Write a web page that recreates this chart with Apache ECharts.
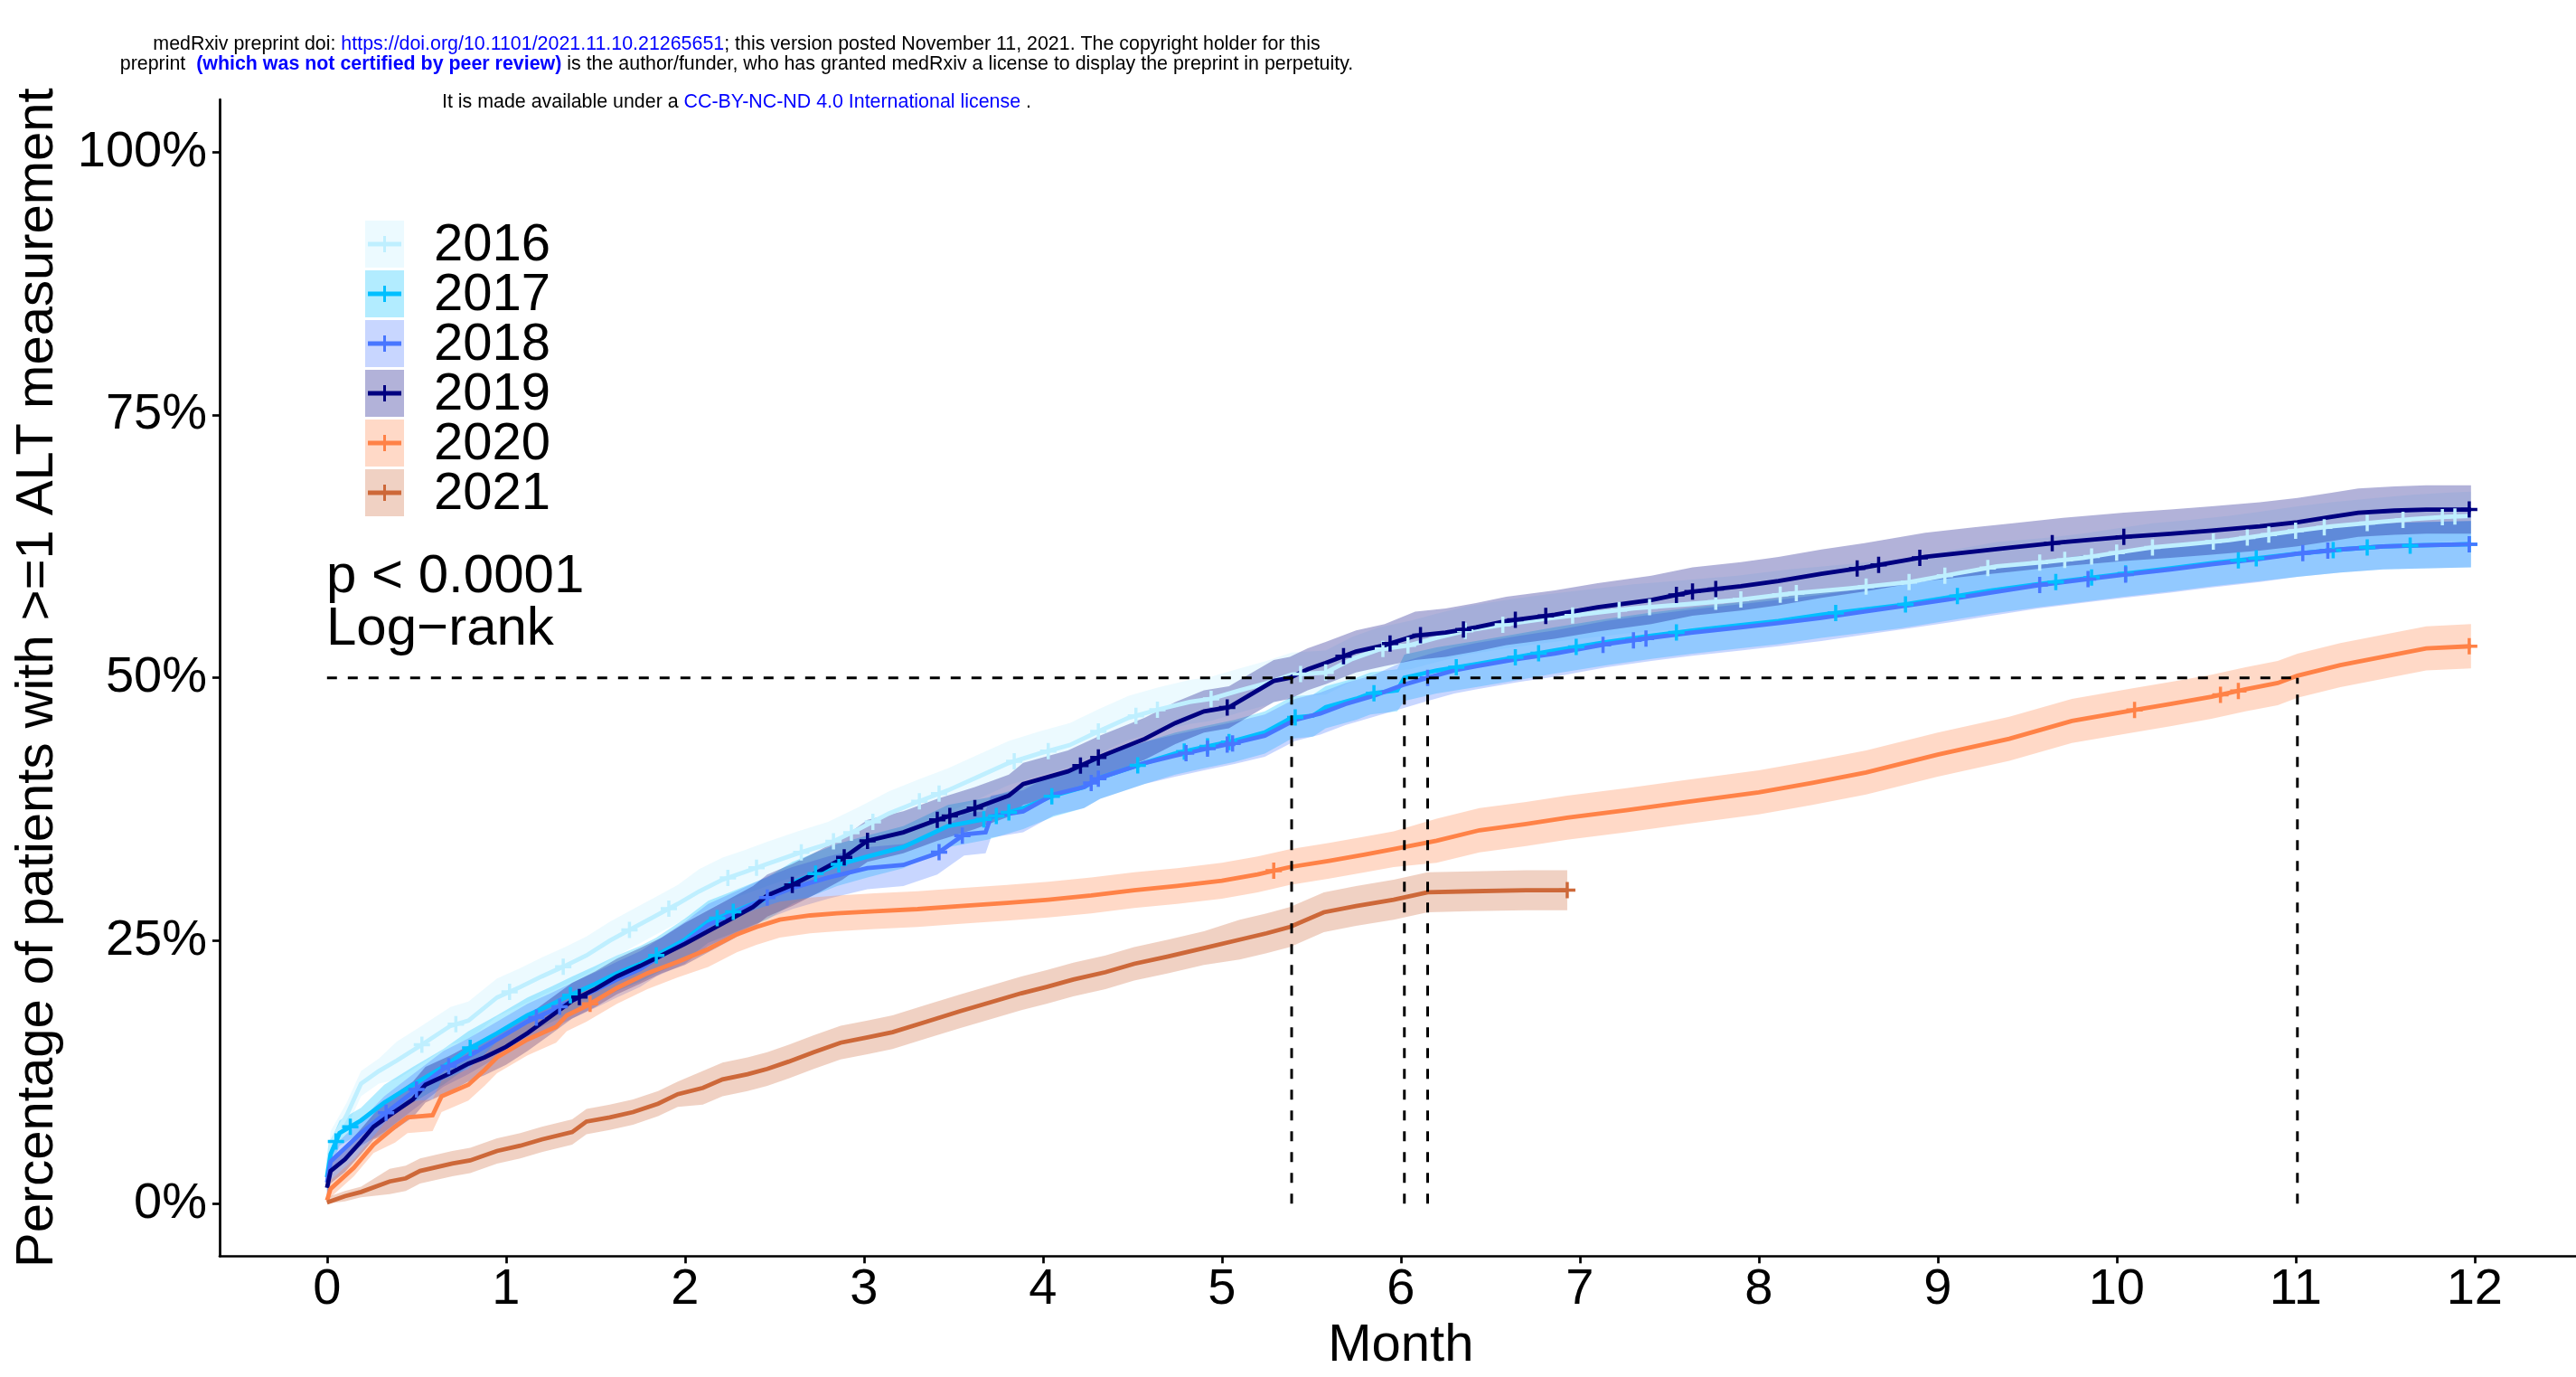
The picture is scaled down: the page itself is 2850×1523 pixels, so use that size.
<!DOCTYPE html>
<html><head><meta charset="utf-8">
<script src="https://cdn.jsdelivr.net/npm/echarts@6/dist/echarts.min.js"></script>
<style>html,body{margin:0;padding:0;background:#fff}#c{width:2850px;height:1523px}</style>
</head><body><div id="c"></div>
<script>
// ---------------- data ----------------
const years = ['2016', '2017', '2018', '2019', '2020', '2021'];
const lineColors = ['#BFEFFF', '#00BFFF', '#4876FF', '#000080', '#FF8247', '#CD6839'];
const xTicks = [0,1,2,3,4,5,6,7,8,9,10,11,12];
const yTicks = [0,25,50,75,100];

const t2016 = [0,0.02,0.11,0.19,0.29,0.39,0.52,0.69,0.79,0.95,1.08,1.2,1.33,1.45,1.58,1.71,1.83,1.96,2.08,2.21,2.33,2.46,2.63,2.8,2.97,3.14,3.3,3.47,3.64,3.81,3.98,4.15,4.31,4.48,4.65,4.82,4.94,5.1,5.25,5.39,5.58,5.73,5.88,6.05,6.2,6.37,6.59,6.8,7.0,7.3,7.6,7.88,8.17,8.5,8.84,9.1,9.33,9.6,9.81,10.0,10.2,10.4,10.63,10.8,11.01,11.2,11.45,11.65,11.84,11.98];
const v2016 = [2.5,5.7,8.4,11.4,12.6,13.6,15.0,16.9,17.4,19.6,20.6,21.6,22.6,23.6,25.0,26.2,27.3,28.5,29.7,30.8,31.5,32.3,33.3,34.2,35.6,37.1,38.2,39.3,40.6,41.9,42.8,43.6,44.9,46.2,47.0,47.7,48.0,48.8,49.5,50.3,50.5,51.8,52.7,53.1,53.8,54.5,55.1,55.6,56.0,56.6,57.0,57.4,58.0,58.5,59.1,59.9,60.6,61.0,61.4,61.9,62.4,62.7,63.1,63.5,64.0,64.4,64.8,65.1,65.3,65.4];

const t2017 = [0,0.02,0.07,0.19,0.32,0.48,0.65,0.79,0.95,1.12,1.25,1.37,1.5,1.62,1.75,1.84,2.0,2.13,2.25,2.38,2.46,2.6,2.85,3.02,3.22,3.47,3.69,3.89,4.06,4.23,4.32,4.57,4.74,4.9,5.07,5.24,5.39,5.51,5.58,5.75,5.83,5.98,6.02,6.2,6.42,6.66,6.86,7.15,7.4,7.63,7.9,8.11,8.35,8.59,8.79,9.08,9.3,9.56,9.8,10.04,10.3,10.53,10.8,11.01,11.25,11.49,11.7,11.98];
const v2017 = [2.5,4.7,6.7,7.9,9.6,11.3,13.0,14.7,16.2,17.9,18.9,19.9,20.9,21.9,22.8,23.6,25.1,26.8,27.6,28.5,29.0,30.5,32.2,33.0,33.9,35.9,36.6,37.6,38.8,39.6,40.5,41.9,42.8,43.4,44.0,44.8,46.2,46.4,47.2,48.0,48.5,48.8,50.0,50.7,51.3,52.0,52.6,53.4,54.0,54.5,55.0,55.4,56.0,56.5,56.9,57.7,58.3,58.9,59.4,59.9,60.4,60.9,61.4,61.8,62.2,62.5,62.6,62.7];

const t2018 = [0,0.02,0.19,0.32,0.45,0.65,0.79,0.95,1.12,1.25,1.37,1.5,1.62,1.75,1.84,2.0,2.13,2.3,2.46,2.6,2.8,3.02,3.22,3.41,3.56,3.68,3.71,3.89,4.06,4.23,4.32,4.57,4.74,4.9,5.07,5.24,5.41,5.55,5.69,5.85,6.01,6.15,6.3,6.42,6.66,6.86,7.15,7.4,7.63,7.9,8.11,8.35,8.59,8.84,9.08,9.3,9.56,9.8,10.04,10.3,10.53,10.8,11.01,11.25,11.49,11.7,11.98];
const v2018 = [2.0,4.0,6.7,8.5,10.2,12.8,14.0,15.6,17.3,18.3,19.3,20.3,21.3,22.3,23.3,24.8,26.5,27.8,29.1,30.0,31.0,31.9,32.2,33.3,35.1,35.3,36.8,37.3,38.9,39.6,40.5,41.9,42.6,43.2,43.8,44.5,46.0,46.6,47.5,48.3,49.3,50.0,50.7,51.1,51.8,52.3,53.2,53.8,54.3,54.8,55.2,55.7,56.3,56.9,57.5,58.1,58.8,59.3,59.8,60.3,60.8,61.3,61.8,62.2,62.5,62.6,62.7];

const t2019 = [0,0.02,0.1,0.19,0.26,0.35,0.48,0.55,0.69,0.79,0.88,1.0,1.12,1.25,1.37,1.5,1.62,1.75,1.87,2.0,2.13,2.25,2.38,2.46,2.6,2.75,2.88,3.02,3.22,3.41,3.62,3.81,3.89,4.14,4.32,4.57,4.74,4.9,5.04,5.14,5.29,5.38,5.48,5.58,5.75,5.91,6.08,6.25,6.42,6.59,6.86,7.1,7.4,7.63,7.9,8.11,8.35,8.59,8.93,9.2,9.42,9.7,10.04,10.3,10.53,10.8,11.01,11.2,11.35,11.55,11.73,11.98];
const v2019 = [1.5,3.1,4.2,5.9,7.3,8.4,9.9,11.3,12.4,13.3,13.9,14.9,16.2,17.8,19.3,20.4,21.6,22.6,23.6,24.7,25.9,27.0,28.2,29.3,30.3,31.6,32.8,34.5,35.3,36.5,37.6,38.8,39.9,41.1,42.5,44.2,45.7,46.8,47.2,48.2,49.7,50.0,50.8,51.4,52.5,53.1,54.0,54.3,54.8,55.4,56.0,56.7,57.4,58.2,58.7,59.2,59.9,60.5,61.5,62.0,62.4,62.9,63.4,63.7,64.0,64.4,64.8,65.3,65.7,65.9,66.0,66.0];

const t2020 = [0,0.02,0.15,0.26,0.38,0.45,0.59,0.64,0.79,0.88,0.95,1.12,1.28,1.34,1.45,1.62,1.79,1.96,2.13,2.29,2.4,2.53,2.7,2.85,3.06,3.3,3.54,3.8,4.03,4.27,4.51,4.75,5.0,5.2,5.38,5.6,5.8,5.96,6.2,6.44,6.7,6.93,7.26,7.6,8.0,8.3,8.6,9.0,9.4,9.75,10.09,10.3,10.53,10.72,10.9,11.01,11.25,11.49,11.73,11.98];
const v2020 = [0.3,1.4,3.4,5.6,7.3,8.2,8.4,10.2,11.3,12.7,13.9,15.6,16.8,17.9,18.8,20.5,21.9,23.0,24.2,25.6,26.3,27.0,27.4,27.6,27.8,28.0,28.3,28.6,28.9,29.3,29.8,30.2,30.7,31.3,32.0,32.6,33.2,33.7,34.5,35.5,36.1,36.7,37.4,38.2,39.1,40.0,41.0,42.7,44.2,45.9,46.9,47.5,48.2,48.9,49.5,50.2,51.2,52.0,52.8,53.0];

const t2021 = [0,0.1,0.19,0.35,0.44,0.52,0.7,0.8,0.95,1.08,1.2,1.37,1.45,1.58,1.71,1.85,1.96,2.1,2.21,2.35,2.46,2.58,2.72,2.87,3.02,3.16,3.35,3.54,3.7,3.88,4.02,4.17,4.35,4.51,4.7,4.9,5.1,5.25,5.38,5.57,5.75,5.96,6.15,6.4,6.7,6.93];
const v2021 = [0.1,0.7,1.1,2.1,2.4,3.1,3.8,4.1,5.0,5.5,6.1,6.8,7.8,8.2,8.7,9.5,10.4,11.0,11.8,12.3,12.8,13.5,14.4,15.3,15.8,16.3,17.3,18.3,19.1,20.0,20.6,21.3,22.0,22.8,23.5,24.3,25.1,25.7,26.3,27.7,28.3,28.9,29.6,29.7,29.8,29.8];

// censoring marks (months)
const c2016 = [0.53,0.72,1.02,1.32,1.69,1.91,2.24,2.40,2.65,2.83,2.93,3.05,3.31,3.42,3.84,4.03,4.31,4.52,4.64,4.94,5.44,5.58,5.90,6.04,6.36,6.57,6.96,7.22,7.39,7.76,7.90,8.12,8.21,8.60,8.84,9.04,9.28,9.57,9.71,9.86,10.0,10.2,10.54,10.73,10.85,11.0,11.16,11.40,11.60,11.82,11.89];
const c2017 = [0.05,0.13,0.80,1.36,1.84,2.18,2.27,2.73,2.86,3.67,3.74,3.81,4.05,4.53,4.79,4.92,5.04,5.41,5.85,6.31,6.64,6.77,6.98,7.54,8.43,8.82,9.11,9.66,9.86,10.05,10.68,10.78,11.21,11.40,11.64,11.97];
const c2018 = [0.33,0.50,0.68,1.17,1.30,2.46,3.42,3.55,4.27,4.31,4.80,4.92,5.03,5.06,6.15,7.13,7.30,7.37,9.57,9.84,10.05,11.04,11.18,11.97];
const c2019 = [1.41,2.60,2.89,3.02,3.41,3.48,3.62,4.21,4.31,5.03,5.68,5.94,6.11,6.35,6.64,6.81,7.54,7.63,7.76,8.55,8.67,8.90,9.64,10.04,11.97];
const c2020 = [1.47,5.29,10.10,10.58,10.68,11.97];
const c2021 = [6.93];

// confidence band half-widths (percentage points), [from month, half-width]
const ci2016 = [[0,1.2],[0.3,1.8],[2,2.1],[6,2.3]];
const ci2017 = [[0,1.2],[0.3,1.7],[2,2.0],[6,2.2]];
const ci2018 = [[0,1.2],[0.3,1.7],[2,2.0],[6,2.2]];
const ci2019 = [[0,1.2],[0.3,1.7],[2,2.0],[6,2.3]];
const ci2020 = [[0,0.8],[0.3,1.5],[2,1.7],[6,2.1]];
const ci2021 = [[0,0.5],[0.3,1.2],[2,1.6],[5,1.9]];

// median survival times (months) and the 50% reference level
const medians = [5.39, 6.02, 6.15, 11.01];
const medianLevel = 50;

// ---------------- chart ----------------
const FONT = '"Liberation Sans", Arial, Helvetica, sans-serif';
const T = [t2016, t2017, t2018, t2019, t2020, t2021];
const V = [v2016, v2017, v2018, v2019, v2020, v2021];
const C = [c2016, c2017, c2018, c2019, c2020, c2021];
const CI = [ci2016, ci2017, ci2018, ci2019, ci2020, ci2021];

// position of a censor mark on the drawn curve
function curveAt(t, v, x) {
  for (let i = 0; i < t.length - 1; i++) {
    if (x >= t[i] && x <= t[i + 1]) {
      const f = (x - t[i]) / (t[i + 1] - t[i]);
      return v[i] + f * (v[i + 1] - v[i]);
    }
  }
  return v[v.length - 1];
}
function ciAt(ci, x) { let h = ci[0][1]; for (const p of ci) if (x >= p[0]) h = p[1]; return h; }
function rgba(hex, a) {
  const n = parseInt(hex.slice(1), 16);
  return 'rgba(' + (n >> 16 & 255) + ',' + (n >> 8 & 255) + ',' + (n & 255) + ',' + a + ')';
}
const plusPath = 'path://M-1.75,-9L1.75,-9L1.75,-1.75L9,-1.75L9,1.75L1.75,1.75L1.75,9L-1.75,9L-1.75,1.75L-9,1.75L-9,-1.75L-1.75,-1.75Z';

const series = [];
// confidence bands: one polygon per year, mapped through the cartesian scales
years.forEach((y, i) => {
  const n = Math.min(T[i].length, V[i].length);
  const rows = [];
  for (let k = 0; k < n; k++) {
    const h = ciAt(CI[i], T[i][k]);
    rows.push([T[i][k], Math.max(0, V[i][k] - h), V[i][k] + h]);
  }
  const fill = rgba(lineColors[i], 0.3);
  series.push({
    type: 'custom', name: y + ' 95% CI', coordinateSystem: 'cartesian2d', data: rows,
    encode: { x: 0, y: [1, 2] }, silent: true, z: 1, clip: true,
    renderItem: (params, api) => {
      if (params.dataIndex !== 0) return null;
      const pts = [];
      for (let k = 0; k < rows.length; k++) pts.push(api.coord([rows[k][0], rows[k][2]]));
      for (let k = rows.length - 1; k >= 0; k--) pts.push(api.coord([rows[k][0], rows[k][1]]));
      return { type: 'polygon', shape: { points: pts }, style: { fill: fill }, silent: true };
    }
  });
});
years.forEach((y, i) => {
  const n = Math.min(T[i].length, V[i].length);
  const d = [];
  for (let k = 0; k < n; k++) d.push([T[i][k], V[i][k]]);
  series.push({ type: 'line', name: y, data: d, symbol: 'none',
    lineStyle: { color: lineColors[i], width: 4.8, join: 'miter' }, itemStyle: { color: lineColors[i] }, z: 2 });
});
years.forEach((y, i) => {
  series.push({ type: 'scatter', name: y + ' censored', data: C[i].map(c => [c, curveAt(T[i], V[i], c)]),
    symbol: plusPath, symbolSize: 18, itemStyle: { color: lineColors[i], opacity: 1 }, z: 3, silent: true });
});
const dash = { color: '#000', width: 3, type: [11, 12] };
series.push({ type: 'line', name: 'median level', data: [[0, medianLevel], [medians[medians.length - 1], medianLevel]],
  symbol: 'none', lineStyle: dash, z: 5, silent: true });
medians.forEach(m => series.push({ type: 'line', name: 'median ' + m, data: [[m, 0], [m, medianLevel]],
  symbol: 'none', lineStyle: dash, z: 5, silent: true }));

// legend drawn as graphic (filled key + line + censor cross)
const graphic = [];
years.forEach((y, i) => {
  const top = 244 + 55 * i, cy = top + 26;
  graphic.push({ type: 'rect', shape: { x: 404, y: top, width: 43, height: 52 }, style: { fill: rgba(lineColors[i], 0.3) }, silent: true });
  graphic.push({ type: 'line', shape: { x1: 407, y1: cy, x2: 444, y2: cy }, style: { stroke: lineColors[i], lineWidth: 5 }, silent: true });
  graphic.push({ type: 'line', shape: { x1: 425.5, y1: cy - 9, x2: 425.5, y2: cy + 9 }, style: { stroke: lineColors[i], lineWidth: 3 }, silent: true });
  graphic.push({ type: 'text', style: { text: y, x: 480, y: cy + 2, font: '58px ' + FONT, fill: '#000', verticalAlign: 'middle', align: 'left' }, silent: true });
});
graphic.push({ type: 'text', style: { text: 'p < 0.0001', x: 361, y: 638, font: '60px ' + FONT, fill: '#000', verticalAlign: 'middle' }, silent: true });
graphic.push({ type: 'text', style: { text: 'Log\u2212rank', x: 361, y: 696, font: '60px ' + FONT, fill: '#000', verticalAlign: 'middle' }, silent: true });
const HF = 21.4;
const hdrRich = {
  k: { fontSize: HF, fontFamily: FONT, fill: '#000', color: '#000' },
  b: { fontSize: HF, fontFamily: FONT, fill: '#0000ff', color: '#0000ff' },
  bb: { fontSize: HF, fontFamily: FONT, fontWeight: 'bold', fill: '#0000ff', color: '#0000ff' }
};
graphic.push({ type: 'text', style: { text: '{k|medRxiv preprint doi: }{b|https://doi.org/10.1101/2021.11.10.21265651}{k|; this version posted November 11, 2021. The copyright holder for this}', rich: hdrRich, x: 815, y: 49, align: 'center', verticalAlign: 'middle' }, silent: true });
graphic.push({ type: 'text', style: { text: '{k|preprint  }{bb|(which was not certified by peer review)}{k| is the author/funder, who has granted medRxiv a license to display the preprint in perpetuity.}', rich: hdrRich, x: 815, y: 71, align: 'center', verticalAlign: 'middle' }, silent: true });
graphic.push({ type: 'text', style: { text: '{k|It is made available under a }{b|CC-BY-NC-ND 4.0 International license}{k| .}', rich: hdrRich, x: 815, y: 113, align: 'center', verticalAlign: 'middle' }, silent: true });

const chart = echarts.init(document.getElementById('c'), null, { renderer: 'canvas' });
chart.setOption({
  animation: false,
  backgroundColor: '#ffffff',
  textStyle: { fontFamily: FONT },
  grid: { left: 243, top: 110, width: 2613.6, height: 1279.3, containLabel: false, outerBoundsMode: 'none' },
  xAxis: {
    type: 'value', min: -0.6, max: 12.6,
    name: 'Month', nameLocation: 'middle', nameGap: 71,
    nameTextStyle: { fontSize: 58, color: '#000', fontFamily: FONT },
    axisLine: { onZero: false, lineStyle: { color: '#000', width: 2.7 } },
    axisTick: { show: true, length: 8, lineStyle: { color: '#000', width: 2.7 }, customValues: xTicks },
    axisLabel: { fontSize: 56, color: '#000', margin: 9, customValues: xTicks, fontFamily: FONT },
    splitLine: { show: false }
  },
  yAxis: {
    type: 'value', min: -5, max: 105,
    name: 'Percentage of patients with >=1 ALT measurement', nameLocation: 'middle', nameGap: 172,
    nameTextStyle: { fontSize: 58, color: '#000', fontFamily: FONT },
    axisLine: { onZero: false, lineStyle: { color: '#000', width: 2.7 } },
    axisTick: { show: true, length: 8, lineStyle: { color: '#000', width: 2.7 }, customValues: yTicks },
    axisLabel: { fontSize: 56, color: '#000', margin: 14, customValues: yTicks, formatter: v => v + '%', fontFamily: FONT },
    splitLine: { show: false }
  },
  graphic: graphic,
  series: series
});
</script>
</body></html>
